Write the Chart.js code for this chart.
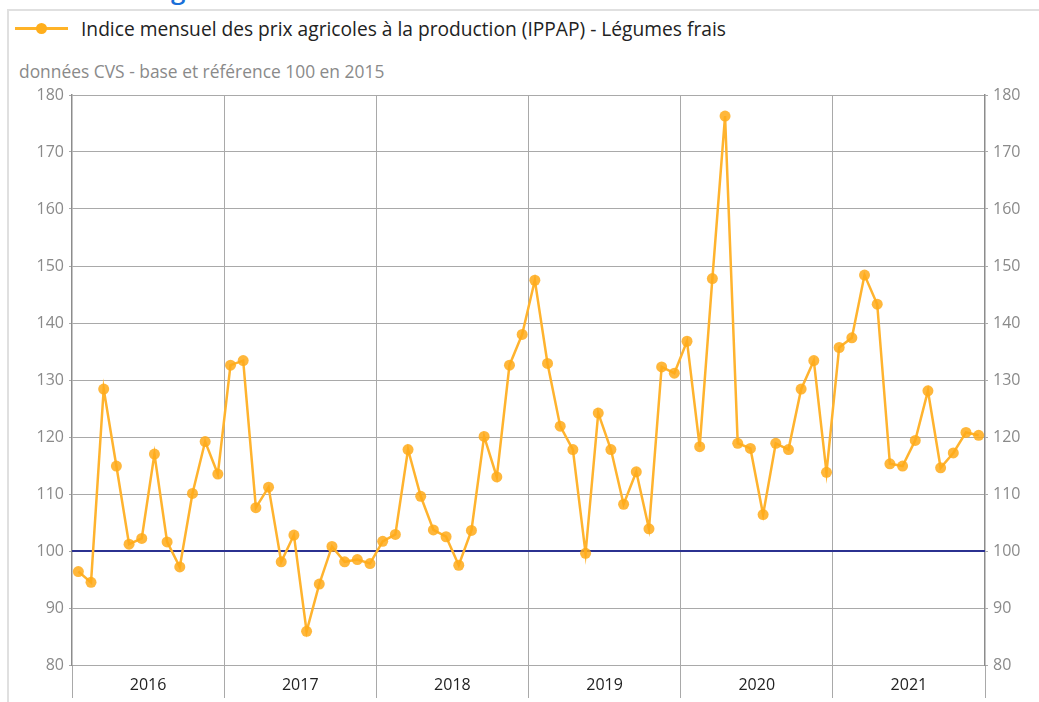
<!DOCTYPE html>
<html>
<head>
<meta charset="utf-8">
<script src="https://cdn.jsdelivr.net/npm/chart.js@4/dist/chart.umd.min.js"></script>
<style>
  html, body { margin:0; padding:0; background:#fff; width:1039px; height:702px; overflow:hidden; font-family:"Open Sans", sans-serif; }
  #frameTop { position:absolute; left:7px; top:9px; width:1032px; height:2px; background:#e0e0e0; }
  #frameLeft { position:absolute; left:7px; top:9px; width:2px; height:693px; background:#e0e0e0; }
  #title { position:absolute; left:142px; top:-29px; font-size:26px; color:#1a6fd8; font-weight:600; white-space:nowrap; }
  #legLine { position:absolute; left:15px; top:27px; width:53px; height:3px; background:#ffb327; }
  #legDot { position:absolute; left:36px; top:23px; width:11px; height:11px; border-radius:50%; background:#ffae1c; }
  #legText { position:absolute; left:81px; top:15px; font-size:19.2px; color:#222; white-space:nowrap; }
  #subtitle { position:absolute; left:19px; top:59px; font-size:17.4px; color:#8a8a8a; white-space:nowrap; }
  #wrap { position:absolute; left:0; top:80px; width:1039px; height:622px; }
</style>
</head>
<body>
<div id="frameTop"></div>
<div id="frameLeft"></div>
<div id="title">Légumes frais</div>
<div id="legLine"></div>
<div id="legDot"></div>
<div id="legText">Indice mensuel des prix agricoles à la production (IPPAP) - Légumes frais</div>
<div id="subtitle">données CVS - base et référence 100 en 2015</div>
<div id="wrap"><canvas id="c" width="1039" height="622"></canvas></div>
<script>
const years = ["2016","2017","2018","2019","2020","2021"];
const yTicks = [80,90,100,110,120,130,140,150,160,170,180];
const referenceLevel = 100;
const seriesName = "Indice mensuel des prix agricoles à la production (IPPAP) - Légumes frais";
const values2016 = [96.4, 94.5, 128.4, 114.9, 101.2, 102.2, 117.0, 101.6, 97.2, 110.1, 119.2, 113.5];
const values2017 = [132.6, 133.4, 107.6, 111.2, 98.1, 102.8, 85.9, 94.2, 100.8, 98.1, 98.5, 97.8];
const values2018 = [101.7, 102.9, 117.8, 109.6, 103.7, 102.5, 97.5, 103.6, 120.1, 113.0, 132.6, 138.0];
const values2019 = [147.5, 132.9, 121.9, 117.8, 99.6, 124.2, 117.8, 108.2, 113.9, 103.9, 132.3, 131.2];
const values2020 = [136.8, 118.3, 147.8, 176.3, 118.9, 118.0, 106.4, 118.9, 117.8, 128.4, 133.4, 113.8];
const values2021 = [135.7, 137.4, 148.4, 143.3, 115.3, 114.9, 119.4, 128.1, 114.6, 117.2, 120.8, 120.3];

const allValues = [].concat(values2016, values2017, values2018, values2019, values2020, values2021);
const nMonths = years.length * 12;
const points = allValues.map((v, i) => ({ x: i + 0.5, y: v }));
const refPoints = [{ x: 0, y: referenceLevel }, { x: nMonths, y: referenceLevel }];

const gridGray = '#a9a9a9';
const tickGray = '#8a8a8a';

new Chart(document.getElementById('c'), {
  type: 'line',
  data: {
    datasets: [
      {
        label: 'Référence 100',
        data: refPoints,
        borderColor: '#2b3190',
        borderWidth: 2,
        pointRadius: 0,
        order: 2
      },
      {
        label: seriesName,
        data: points,
        borderColor: '#ffb32e',
        borderWidth: 2.5,
        pointRadius: 5.5,
        pointHoverRadius: 5.5,
        pointBackgroundColor: 'rgba(255,170,25,0.85)',
        pointBorderColor: 'rgba(255,170,25,0.85)',
        pointBorderWidth: 0,
        tension: 0,
        order: 1
      }
    ]
  },
  options: {
    responsive: false,
    animation: false,
    layout: { padding: { top: 15, left: 0, right: 0, bottom: 0 } },
    plugins: { legend: { display: false }, tooltip: { enabled: false } },
    scales: {
      x: {
        type: 'linear',
        min: 0,
        max: nMonths,
        afterBuildTicks: (s) => { s.ticks = Array.from({ length: nMonths / 6 + 1 }, (_, k) => ({ value: k * 6 })); },
        afterFit: (s) => { s.height = 37; },
        grid: {
          color: (ctx) => (ctx.tick && ctx.tick.value % 12 === 0 && ctx.tick.value > 0 && ctx.tick.value < nMonths) ? gridGray : 'rgba(0,0,0,0)',
          tickColor: (ctx) => (ctx.tick && ctx.tick.value % 12 === 0) ? gridGray : 'rgba(0,0,0,0)',
          tickLength: 33,
          lineWidth: 1
        },
        border: { display: false },
        ticks: {
          autoSkip: false,
          maxRotation: 0,
          padding: -22,
          color: '#222',
          font: { family: 'Open Sans', size: 16 },
          callback: (v) => (v % 12 === 6) ? years[(v - 6) / 12] : ''
        }
      },
      y: {
        position: 'left',
        min: yTicks[0],
        max: yTicks[yTicks.length - 1],
        afterBuildTicks: (s) => { s.ticks = yTicks.map(v => ({ value: v })); },
        afterFit: (s) => { s.width = 72; },
        grid: { color: gridGray, tickLength: 3, lineWidth: 1 },
        border: { display: true, color: '#8c8c8c', width: 1.5 },
        ticks: { color: tickGray, padding: 5, font: { family: 'Open Sans', size: 16 } }
      },
      y1: {
        position: 'right',
        min: yTicks[0],
        max: yTicks[yTicks.length - 1],
        afterBuildTicks: (s) => { s.ticks = yTicks.map(v => ({ value: v })); },
        afterFit: (s) => { s.width = 54; },
        grid: { drawOnChartArea: false, color: gridGray, tickLength: 3 },
        border: { display: true, color: '#8c8c8c', width: 1.5 },
        ticks: { color: tickGray, padding: 5, font: { family: 'Open Sans', size: 16 } }
      }
    }
  }
});
</script>
</body>
</html>
